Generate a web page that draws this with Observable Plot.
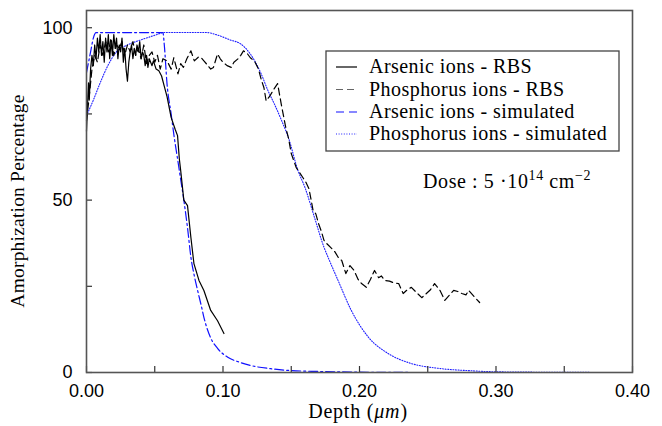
<!DOCTYPE html>
<html><head><meta charset="utf-8">
<script src="https://cdn.jsdelivr.net/npm/d3@7"></script>
<script src="https://cdn.jsdelivr.net/npm/@observablehq/plot@0.6"></script>
<style>
body{margin:0;background:#fff;}
#chart{position:relative;width:662px;height:426px;}
</style>
</head><body><div id="chart"></div>
<script>
// Arsenic ions - RBS
const asRbsX = [0.000,0.001,0.0015,0.002,0.003,0.004,0.005,0.006,0.007,0.008,0.009,0.010,0.011,0.012,0.013,0.014,0.015,0.016,0.017,0.018,0.019,0.020,0.021,0.022,0.023,0.024,0.025,0.026,0.027,0.028,0.029,0.030,0.031,0.032,0.033,0.034,0.035,0.036,0.037,0.038,0.039,0.040,0.041,0.042,0.043,0.044,0.045,0.046,0.048,0.049,0.051,0.053,0.055,0.057,0.059,0.062,0.065,0.0667,0.068,0.069,0.0713,0.074,0.0765,0.0787,0.0824,0.086,0.091,0.096,0.1007];
const asRbsY = [70,80,84,79,88,92,89,95,91,97,93,98,92,96,90,97,93,98,91,96,92,98,94,97,91,95,93,97,90,94,88,84.5,90,93,95,91,94,92,95,93,96,91,93,92,89,92,88.5,91,89,90.4,88,87.5,86,83,80,74,70.5,68.7,62,58.6,50,48.4,39.1,31.6,26.7,23.8,18,15,11.3];
// Phosphorus ions - RBS
const pRbsX = [0.000,0.002,0.004,0.006,0.008,0.010,0.012,0.014,0.016,0.018,0.020,0.022,0.024,0.026,0.028,0.030,0.032,0.034,0.036,0.038,0.040,0.042,0.044,0.046,0.048,0.050,0.052,0.054,0.056,0.059,0.062,0.064,0.067,0.069,0.071,0.0735,0.0765,0.079,0.082,0.084,0.086,0.089,0.091,0.093,0.096,0.098,0.100,0.103,0.106,0.108,0.111,0.113,0.115,0.118,0.120,0.123,0.126,0.128,0.130,0.1316,0.134,0.137,0.140,0.1426,0.146,0.148,0.150,0.1537,0.1586,0.161,0.163,0.166,0.168,0.170,0.172,0.174,0.176,0.179,0.182,0.185,0.187,0.190,0.193,0.196,0.199,0.2015,0.205,0.208,0.211,0.214,0.216,0.2186,0.222,0.225,0.2287,0.232,0.235,0.238,0.241,0.2456,0.249,0.252,0.255,0.259,0.2625,0.266,0.269,0.272,0.275,0.278,0.280,0.284,0.288];
const pRbsY = [73,80,88,92,90,95,92,96,93,97,92,95,94,96,92,95,93,96,92,94,91,95,89.6,92,93,90,92,88,91,90.4,88,91.3,86.6,89.6,88.5,91,93.3,90.4,91.5,91.3,90.4,89,88,88.5,92.4,91,90,89,88.5,90,91,92,93.3,92.4,91.3,90.4,88,85,82.6,78.8,80,82,83.8,78,71,68,63.5,59.4,56.5,55,53.3,47,46,43.2,41,38.3,37.4,36.2,35,33,32.5,28.7,31,29.6,27,25.8,24.7,27,29.6,27.5,28,26.7,26.5,26,25.8,22.9,24,24.7,23.5,21.7,22.9,24,25.8,23.8,20.9,22.5,23.8,23.5,22.9,22.5,23.8,22,20.3];
// Arsenic ions - simulated
const asSimX = [0,0.003,0.005,0.007,0.056,0.057,0.059,0.062,0.064,0.0667,0.069,0.0713,0.074,0.0765,0.079,0.0814,0.084,0.086,0.091,0.096,0.1035,0.112,0.1206,0.135,0.148,0.17,0.2,0.25,0.4];
const asSimY = [87,93,97,98.6,98.6,95,83.7,75,69,62,56,50,42,33.4,28,23.8,19.5,16,10,7,4.4,3,2,1.1,0.6,0.3,0.1,0,0];
// Phosphorus ions - simulated
const pSimX = [0,0.005,0.010,0.015,0.0226,0.03,0.04,0.05,0.057,0.088,0.095,0.105,0.113,0.12,0.128,0.133,0.1375,0.143,0.148,0.155,0.16,0.167,0.174,0.177,0.1843,0.194,0.2066,0.221,0.238,0.258,0.282,0.3,0.35,0.4];
const pSimY = [74.5,79,84,88.5,93.3,95,96.5,97.8,98.6,98.6,98,96.5,95.3,92.4,86.6,81.7,78,73,68,58.5,53.7,45,36.3,33.4,26.7,18,10.2,5.5,2.6,1.2,0.5,0.2,0.05,0];

const xTicks = [0,0.05,0.10,0.15,0.20,0.25,0.30,0.35,0.40];
const xLabels = [0,0.10,0.20,0.30,0.40];
const yTicks = [0,25,50,75,100];
const yLabels = [0,50,100];
const seriesNames = ["Arsenic ions - RBS","Phosphorus ions - RBS","Arsenic ions - simulated","Phosphorus ions - simulated"];

const zip = (xs, ys) => xs.map((x, i) => ({x, y: ys[i]}));
const asRbs = zip(asRbsX, asRbsY), pRbs = zip(pRbsX, pRbsY), asSim = zip(asSimX, asSimY), pSim = zip(pSimX, pSimY);

const styles = [
  {stroke:"#000", strokeWidth:1.2},
  {stroke:"#000", strokeWidth:1.2, strokeDasharray:"7,4"},
  {stroke:"#1010ff", strokeWidth:1.2, strokeDasharray:"9,3,2,3"},
  {stroke:"#2020ff", strokeWidth:1.1, strokeDasharray:"1,1.6"}
];

const plot = Plot.plot({
  width: 662, height: 426,
  marginTop: 10, marginRight: 30, marginBottom: 54, marginLeft: 86,
  style: {fontFamily: "'Liberation Sans', Arial, sans-serif", fontSize: "18px", background: "#fff", color: "#000"},
  x: {domain: [0, 0.4]},
  y: {domain: [0, 105]},
  marks: [
    Plot.line(pSim, {x:"x", y:"y", curve:"monotone-x", ...styles[3]}),
    Plot.line(asSim, {x:"x", y:"y", curve:"monotone-x", ...styles[2]}),
    Plot.line(pRbs, {x:"x", y:"y", ...styles[1]}),
    Plot.line(asRbs, {x:"x", y:"y", ...styles[0]}),
    Plot.axisX(xTicks, {tickSize: -6, tickFormat: () => "", label: null, stroke: "#333", strokeWidth: 1.2}),
    Plot.axisX(xLabels, {tickSize: 0, tickPadding: 12, tickFormat: d3.format(".2f"), label: null}),
    Plot.axisY(yTicks, {tickSize: -6, tickFormat: () => "", label: null, stroke: "#333", strokeWidth: 1.2}),
    Plot.axisY(yLabels, {tickSize: 0, tickPadding: 14, tickFormat: d3.format("d"), label: null}),
    Plot.frame({stroke: "#555", strokeWidth: 1.6})
  ]
});
document.getElementById("chart").appendChild(plot);

const svg = d3.select(plot);
const serif = "'Liberation Serif', 'Times New Roman', serif";
// Axis titles
svg.append("text").attr("x", 358).attr("y", 418).attr("text-anchor", "middle")
  .attr("font-family", serif).attr("font-size", 20).attr("letter-spacing", 0.8)
  .call(t => { t.append("tspan").text("Depth ("); t.append("tspan").attr("font-style","italic").text("μm"); t.append("tspan").text(")"); });
svg.append("text").attr("transform", "translate(24,201) rotate(-90)").attr("text-anchor", "middle")
  .attr("font-family", serif).attr("font-size", 19.5).attr("letter-spacing", 0.2).text("Amorphization Percentage");

// Legend
const lg = svg.append("g");
lg.append("rect").attr("x", 326).attr("y", 51).attr("width", 293).attr("height", 100)
  .attr("fill", "#fff").attr("stroke", "#444").attr("stroke-width", 1.3);
const rowY = [67, 89.5, 112, 134];
const legendStroke = ["#000", "#666", "#1010ff", "#2020ff"];
seriesNames.forEach((name, i) => {
  lg.append("line").attr("x1", 336).attr("x2", 357).attr("y1", rowY[i]).attr("y2", rowY[i])
    .attr("stroke", legendStroke[i]).attr("stroke-width", styles[i].strokeWidth)
    .attr("stroke-dasharray", i === 1 ? "7,4" : i === 2 ? "8,5" : i === 3 ? "1,1.6" : null);
  lg.append("text").attr("x", 369).attr("y", rowY[i] + 6).attr("text-anchor", "start").attr("font-family", serif)
    .attr("font-size", 20).attr("letter-spacing", 0.45).text(name);
});
// Dose annotation
const dose = svg.append("text").attr("x", 423).attr("y", 188).attr("text-anchor", "start").attr("font-family", serif)
  .attr("font-size", 20).attr("letter-spacing", 0.6).attr("xml:space", "preserve");
dose.append("tspan").text("Dose : 5 ·10");
dose.append("tspan").attr("font-size", 14).attr("dy", -8).text("14");
dose.append("tspan").attr("dy", 8).text(" cm");
dose.append("tspan").attr("font-size", 14).attr("dy", -8).text("−2");
</script>
</body></html>
